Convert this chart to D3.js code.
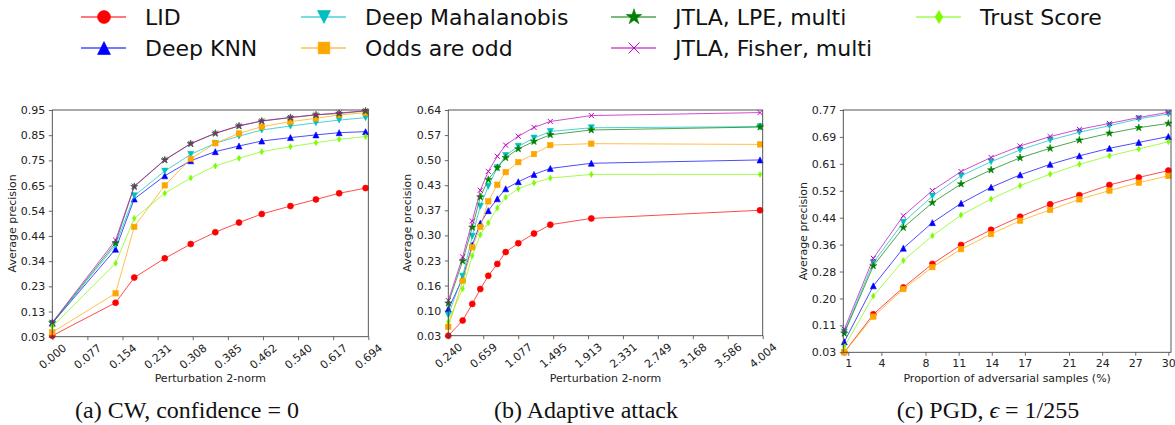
<!DOCTYPE html>
<html><head><meta charset="utf-8">
<script src="https://cdn.jsdelivr.net/npm/d3@7"></script>
<style>body{margin:0;background:#fff} svg{display:block;background:#fff}</style>
</head><body><svg id="c" width="1175" height="425"></svg>
<script>
// ---------- data ----------
const methods = ["LID","Deep KNN","Deep Mahalanobis","Odds are odd","JTLA, LPE, multi","JTLA, Fisher, multi","Trust Score"];

// Panel (a) CW, confidence = 0
const xA      = [0, 0.139, 0.180, 0.247, 0.304, 0.358, 0.410, 0.460, 0.523, 0.579, 0.630, 0.688];
const lidA    = [0.034, 0.168, 0.270, 0.348, 0.406, 0.454, 0.493, 0.528, 0.560, 0.587, 0.612, 0.633];
const dknnA   = [0.085, 0.385, 0.589, 0.683, 0.744, 0.781, 0.804, 0.824, 0.838, 0.849, 0.858, 0.862];
const dmA     = [0.084, 0.402, 0.602, 0.702, 0.770, 0.815, 0.844, 0.869, 0.885, 0.898, 0.909, 0.919];
const oddsA   = [0.048, 0.206, 0.476, 0.644, 0.752, 0.815, 0.855, 0.882, 0.903, 0.916, 0.930, 0.939];
const lpeA    = [0.086, 0.411, 0.639, 0.747, 0.813, 0.855, 0.885, 0.905, 0.919, 0.930, 0.936, 0.946];
const fisherA = [0.088, 0.422, 0.641, 0.748, 0.814, 0.856, 0.886, 0.906, 0.920, 0.931, 0.938, 0.947];
const trustA  = [0.071, 0.328, 0.510, 0.612, 0.674, 0.723, 0.754, 0.781, 0.801, 0.817, 0.831, 0.842];
const xTicksA = [0, 0.0771, 0.1542, 0.2313, 0.3084, 0.3856, 0.4627, 0.5398, 0.6169, 0.694];
const xLabelsA = ["0.000","0.077","0.154","0.231","0.308","0.385","0.462","0.540","0.617","0.694"];
const yTicksA = [0.03, 0.1322, 0.2344, 0.3367, 0.4389, 0.5411, 0.6433, 0.7456, 0.8478, 0.95];
const yLabelsA = ["0.03","0.13","0.23","0.34","0.44","0.54","0.65","0.75","0.85","0.95"];

// Panel (b) Adaptive attack
const xB      = [0.24, 0.412, 0.527, 0.623, 0.719, 0.827, 0.927, 1.078, 1.266, 1.461, 1.952, 3.972];
const lidB    = [0.030, 0.071, 0.116, 0.156, 0.192, 0.224, 0.256, 0.280, 0.306, 0.330, 0.347, 0.369];
const dknnB   = [0.102, 0.185, 0.275, 0.334, 0.368, 0.400, 0.427, 0.446, 0.466, 0.482, 0.496, 0.505];
const dmB     = [0.086, 0.191, 0.299, 0.380, 0.434, 0.484, 0.517, 0.542, 0.564, 0.582, 0.592, 0.595];
const oddsB   = [0.054, 0.178, 0.269, 0.324, 0.393, 0.438, 0.472, 0.499, 0.521, 0.545, 0.549, 0.547];
const lpeB    = [0.118, 0.232, 0.323, 0.405, 0.452, 0.484, 0.511, 0.535, 0.555, 0.573, 0.586, 0.594];
const fisherB = [0.125, 0.243, 0.340, 0.423, 0.474, 0.515, 0.545, 0.569, 0.593, 0.609, 0.625, 0.633];
const trustB  = [0.068, 0.157, 0.246, 0.303, 0.335, 0.375, 0.404, 0.427, 0.443, 0.456, 0.466, 0.466];
const xTicksB = [0.240, 0.658, 1.077, 1.495, 1.913, 2.331, 2.749, 3.168, 3.586, 4.004];
const xLabelsB = ["0.240","0.659","1.077","1.495","1.913","2.331","2.749","3.168","3.586","4.004"];
const yTicksB = [0.03, 0.0978, 0.1656, 0.2333, 0.3011, 0.3689, 0.4367, 0.5044, 0.5722, 0.64];
const yLabelsB = ["0.03","0.10","0.16","0.23","0.30","0.37","0.43","0.50","0.57","0.64"];

// Panel (c) PGD, eps = 1/255
const xC      = [0.64, 3.27, 5.99, 8.62, 11.22, 13.94, 16.57, 19.29, 21.94, 24.66, 27.32, 30.0];
const lidC    = [0.030, 0.146, 0.228, 0.300, 0.358, 0.404, 0.444, 0.482, 0.510, 0.541, 0.564, 0.585];
const dknnC   = [0.062, 0.233, 0.348, 0.426, 0.485, 0.534, 0.572, 0.604, 0.630, 0.653, 0.671, 0.689];
const dmC     = [0.092, 0.304, 0.427, 0.507, 0.569, 0.612, 0.648, 0.678, 0.702, 0.722, 0.743, 0.758];
const oddsC   = [0.030, 0.139, 0.223, 0.290, 0.345, 0.391, 0.432, 0.465, 0.497, 0.524, 0.548, 0.569];
const lpeC    = [0.088, 0.294, 0.411, 0.487, 0.544, 0.587, 0.624, 0.653, 0.678, 0.699, 0.716, 0.729];
const fisherC = [0.100, 0.317, 0.447, 0.524, 0.582, 0.625, 0.660, 0.689, 0.711, 0.729, 0.747, 0.763];
const trustC  = [0.047, 0.202, 0.310, 0.386, 0.449, 0.498, 0.539, 0.574, 0.604, 0.630, 0.651, 0.673];
const xTicksC = [1, 4, 8, 11, 14, 17, 21, 24, 27, 30];
const xLabelsC = ["1","4","8","11","14","17","21","24","27","30"];
const yTicksC = [0.03, 0.1122, 0.1944, 0.2767, 0.3589, 0.4411, 0.5233, 0.6056, 0.6878, 0.77];
const yLabelsC = ["0.03","0.11","0.20","0.28","0.36","0.44","0.52","0.61","0.69","0.77"];

const captions = ["(a) CW, confidence = 0", "(b) Adaptive attack", "(c) PGD, "];

// ---------- styles ----------
const colors  = ["#ff0000","#0000ff","#00bfbf","#ffa500","#008000","#bf00bf","#7cfc00"];
const markers = ["circle","triUp","triDown","square","star","x","thinDiamond"];
const FONT = "'DejaVu Sans', sans-serif";

const svg = d3.select("#c");

function drawMarker(g, type, s, color) {
  const h = s / 2;
  if (type === "circle") {
    g.append("circle").attr("r", h).attr("fill", color).attr("stroke", color).attr("stroke-width", 0.6);
  } else if (type === "triUp" || type === "triDown") {
    const k = type === "triUp" ? 1 : -1;
    g.append("path").attr("d", `M0,${-k*h}L${h},${k*h}L${-h},${k*h}Z`)
      .attr("fill", color).attr("stroke", color).attr("stroke-width", 0.6);
  } else if (type === "square") {
    const q = h * 0.9;
    g.append("rect").attr("x", -q).attr("y", -q).attr("width", 2*q).attr("height", 2*q)
      .attr("fill", color).attr("stroke", color).attr("stroke-width", 0.6);
  } else if (type === "star") {
    g.append("path").attr("d", d3.symbol(d3.symbolStar, s * s * 0.45)())
      .attr("fill", color).attr("stroke", color).attr("stroke-width", 0.6);
  } else if (type === "x") {
    const q = h * 0.85;
    g.append("path").attr("d", `M${-q},${-q}L${q},${q}M${-q},${q}L${q},${-q}`)
      .attr("fill", "none").attr("stroke", color).attr("stroke-width", 1);
  } else if (type === "thinDiamond") {
    g.append("path").attr("d", `M0,${-h}L${h*0.6},0L0,${h}L${-h*0.6},0Z`)
      .attr("fill", color).attr("stroke", color).attr("stroke-width", 0.6);
  }
}

function panel(cfg) {
  const {x0, x1, y0, y1, xDom, yDom, xs, series, xTicks, xLabels, yTicks, yLabels, rotate, yLabelX} = cfg;
  const x = d3.scaleLinear().domain(xDom).range([x0, x1]);
  const y = d3.scaleLinear().domain(yDom).range([y1, y0]);
  const g = svg.append("g");

  series.forEach((vals, i) => {
    const pts = xs.map((xv, j) => [xv, vals[j]]);
    g.append("path").datum(pts)
      .attr("d", d3.line().x(d => x(d[0])).y(d => y(d[1])))
      .attr("fill", "none").attr("stroke", colors[i]).attr("stroke-width", 1).attr("stroke-opacity", 0.7);
    pts.forEach(p => {
      const m = g.append("g").attr("transform", `translate(${x(p[0])},${y(p[1])})`);
      drawMarker(m, markers[i], 6, colors[i]);
    });
  });

  const ax = g.append("g").attr("transform", `translate(0,${y1})`)
    .call(d3.axisBottom(x).tickValues(xTicks).tickFormat((d, i) => xLabels[i]).tickSize(3.5).tickPadding(3.5));
  const ay = g.append("g").attr("transform", `translate(${x0},0)`)
    .call(d3.axisLeft(y).tickValues(yTicks).tickFormat((d, i) => yLabels[i]).tickSize(3.5).tickPadding(3.5));
  [ax, ay].forEach(a => {
    a.select(".domain").remove();
    a.selectAll("line").attr("stroke", "#444").attr("stroke-width", 0.8);
    a.selectAll("text").attr("font-family", FONT).attr("font-size", 11).attr("fill", "#222");
  });
  if (rotate) {
    ax.selectAll("text")
      .attr("y", 0).attr("dy", null)
      .attr("dominant-baseline", "central").attr("text-anchor", "middle")
      .attr("transform", "translate(0,20) rotate(-40)");
  }
  g.append("rect").attr("x", x0).attr("y", y0).attr("width", x1 - x0).attr("height", y1 - y0)
    .attr("fill", "none").attr("stroke", "#444").attr("stroke-width", 0.9);

  g.append("text").attr("x", (x0 + x1) / 2).attr("y", 382).attr("text-anchor", "middle")
    .attr("font-family", FONT).attr("font-size", 11).attr("fill", "#222").text(cfg.xTitle);
  g.append("text").attr("transform", `translate(${yLabelX},${(y0 + y1) / 2}) rotate(-90)`)
    .attr("text-anchor", "middle").attr("dominant-baseline", "central")
    .attr("font-family", FONT).attr("font-size", 11).attr("fill", "#222").text("Average precision");
}

panel({x0: 52.3, x1: 368.3, y0: 110, y1: 336.7, xDom: [0, 0.694], yDom: [0.03, 0.95], xs: xA,
  series: [lidA, dknnA, dmA, oddsA, lpeA, fisherA, trustA], xTicks: xTicksA, xLabels: xLabelsA,
  yTicks: yTicksA, yLabels: yLabelsA, rotate: true, yLabelX: 12, xTitle: "Perturbation 2-norm"});
panel({x0: 448.3, x1: 762.7, y0: 110, y1: 335.7, xDom: [0.24, 4.004], yDom: [0.03, 0.64], xs: xB,
  series: [lidB, dknnB, dmB, oddsB, lpeB, fisherB, trustB], xTicks: xTicksB, xLabels: xLabelsB,
  yTicks: yTicksB, yLabels: yLabelsB, rotate: true, yLabelX: 407.5, xTitle: "Perturbation 2-norm"});
panel({x0: 843.3, x1: 1171, y0: 110, y1: 352.3, xDom: [0.55, 30.24], yDom: [0.03, 0.77], xs: xC,
  series: [lidC, dknnC, dmC, oddsC, lpeC, fisherC, trustC], xTicks: xTicksC, xLabels: xLabelsC,
  yTicks: yTicksC, yLabels: yLabelsC, rotate: false, yLabelX: 803.5, xTitle: "Proportion of adversarial samples (%)"});

// ---------- legend ----------
const legTextX = [145, 365, 675, 980];
const legRowY = [17, 48];
methods.forEach((name, i) => {
  const col = Math.floor(i / 2), row = i % 2;
  const tx = legTextX[col], ty = legRowY[row];
  const lg = svg.append("g");
  lg.append("line").attr("x1", tx - 64).attr("x2", tx - 19).attr("y1", ty).attr("y2", ty)
    .attr("stroke", colors[i]).attr("stroke-width", 1.5).attr("stroke-opacity", 0.7);
  const m = lg.append("g").attr("transform", `translate(${tx - 41},${ty})`);
  drawMarker(m, markers[i], 13, colors[i]);
  lg.append("text").attr("x", tx).attr("y", ty).attr("dominant-baseline", "central")
    .attr("font-family", FONT).attr("font-size", 22).attr("fill", "#111").text(name);
});

// ---------- captions ----------
const capX = [187, 586, 988];
const SERIF = "'Liberation Serif', 'Times New Roman', serif";
captions.forEach((c, i) => {
  const t = svg.append("text").attr("x", capX[i]).attr("y", 418).attr("text-anchor", "middle")
    .attr("font-family", SERIF).attr("font-size", 24).attr("fill", "#111");
  t.append("tspan").text(c);
  if (i === 2) {
    t.append("tspan").attr("font-style", "italic").text("\u03F5");
    t.append("tspan").text(" = 1/255");
  }
});
</script>
</body></html>
